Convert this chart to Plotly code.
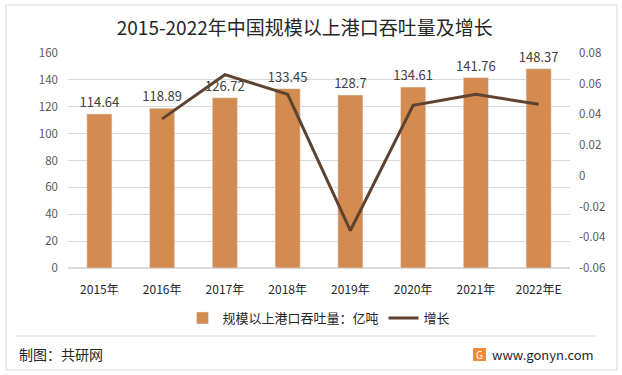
import plotly.graph_objects as go

categories = ["2015年", "2016年", "2017年", "2018年", "2019年", "2020年", "2021年", "2022年E"]
throughput = [114.64, 118.89, 126.72, 133.45, 128.7, 134.61, 141.76, 148.37]
growth_years = ["2016年", "2017年", "2018年", "2019年", "2020年", "2021年", "2022年E"]
growth = [0.0371, 0.0659, 0.0531, -0.0356, 0.0459, 0.0531, 0.0466]

FONT = "Noto Sans CJK SC"
L, R, T, B = 68, 570, 53, 268
W, H = 622, 375

def px(x):
    return (x - L) / (R - L)

def py(y):
    return (B - y) / (B - T)

fig = go.Figure()
fig.add_trace(go.Bar(
    x=categories, y=throughput, name="规模以上港口吞吐量：亿吨",
    marker=dict(color="#D38B4F"), width=0.4,
    text=[f"{v:g}" for v in throughput], textposition="outside", constraintext="none",
    textfont=dict(size=13, color="#404040", family=FONT), cliponaxis=False,
))
fig.add_trace(go.Scatter(
    x=growth_years, y=growth, name="增长", yaxis="y2", mode="lines",
    line=dict(color="#5E4330", width=3),
))

fig.update_layout(
    width=W, height=H,
    margin=dict(l=L, r=W - R, t=T, b=H - B),
    paper_bgcolor="white", plot_bgcolor="white",
    font=dict(family=FONT, color="#595959", size=11),
    title=dict(text="2015-2022年中国规模以上港口吞吐量及增长", x=0.49, xanchor="center",
               y=1 - 28 / H, yanchor="middle", font=dict(size=19, color="#262626", family=FONT)),
    showlegend=True,
    legend=dict(orientation="h", x=0.5, xanchor="center", y=py(318), yanchor="middle",
                font=dict(size=13, color="#262626", family=FONT),
                traceorder="normal"),
    bargap=0.6,
    xaxis=dict(tickfont=dict(size=12, color="#262626"), showline=False, ticks="",
               ticklabelstandoff=13),
    yaxis=dict(range=[0, 160], dtick=20, showgrid=True, gridcolor="#D9D9D9", gridwidth=1,
               zeroline=True, zerolinecolor="#D9D9D9", ticks="", ticklabelstandoff=9,
               tickfont=dict(size=11.5, color="#595959")),
    yaxis2=dict(range=[-0.06, 0.08], dtick=0.02, overlaying="y", side="right",
                showgrid=False, zeroline=False, ticks="", ticklabelstandoff=8,
                tickvals=[-0.06, -0.04, -0.02, 0, 0.02, 0.04, 0.06, 0.08],
                ticktext=["-0.06", "-0.04", "-0.02", "0", "0.02", "0.04", "0.06", "0.08"],
                tickfont=dict(size=11.5, color="#595959")),
    shapes=[
        dict(type="rect", xref="paper", yref="paper", x0=px(6), x1=px(617), y0=py(370), y1=py(5),
             line=dict(color="#D9D9D9", width=1), layer="below"),
        dict(type="line", xref="paper", yref="paper", x0=px(15), x1=px(596), y0=py(336), y1=py(336),
             line=dict(color="#D9D9D9", width=1)),
        dict(type="rect", xref="paper", yref="paper", x0=px(473), x1=px(486), y0=py(361), y1=py(348),
             fillcolor="#F08A3C", line=dict(width=0)),
    ],
    annotations=[
        dict(text="制图：共研网", xref="paper", yref="paper", x=px(17), y=py(354),
             xanchor="left", yanchor="middle", showarrow=False,
             font=dict(size=14, color="#262626", family=FONT)),
        dict(text="G", xref="paper", yref="paper", x=px(479.5), y=py(354.5),
             xanchor="center", yanchor="middle", showarrow=False,
             font=dict(size=10, color="white", family=FONT)),
        dict(text="www.gonyn.com", xref="paper", yref="paper", x=px(490), y=py(354),
             xanchor="left", yanchor="middle", showarrow=False,
             font=dict(size=13, color="#262626", family=FONT)),
    ],
)

fig.write_html("out.html", config={"displayModeBar": False},
               post_script="document.body.style.margin='0';document.body.style.overflow='hidden';")
